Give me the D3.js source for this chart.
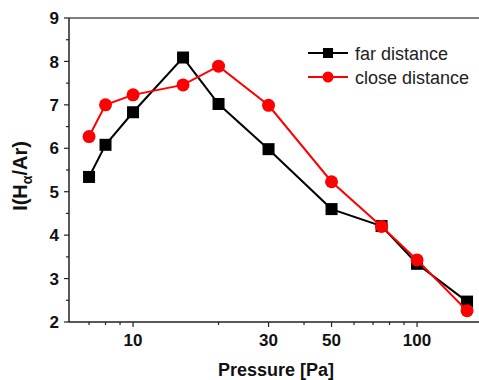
<!doctype html>
<html lang="en">
<head>
<meta charset="utf-8">
<script src="https://d3js.org/d3.v7.min.js"></script>
<style>
  body { margin: 0; background: #fff; }
  text { font-family: "Liberation Sans", Arial, sans-serif; }
</style>
</head>
<body>
<div id="chart"></div>
<script>
// data
var pressure = [7, 8, 10, 15, 20, 30, 50, 75, 100, 150]
var farDist = [5.34, 6.08, 6.83, 8.09, 7.02, 5.98, 4.60, 4.21, 3.34, 2.47]
var closeDist = [6.27, 7.00, 7.23, 7.46, 7.89, 6.99, 5.23, 4.20, 3.43, 2.26]
var xMajor = [10, 30, 50, 100]
var xMinor = [7, 8, 9, 20, 40, 60, 70, 80, 90]
var yMajor = [2, 3, 4, 5, 6, 7, 8, 9]
var yMinor = [2.5, 3.5, 4.5, 5.5, 6.5, 7.5, 8.5]

var width = 479, height = 380
var svg = d3.select("#chart").append("svg")
  .attr("width", width).attr("height", height)

var plotLeft = 69, plotTop = 18, plotBottom = 322
var decade = 284
var x = d3.scaleLog().domain([5.95, 200])
  .range([plotLeft, plotLeft + decade * Math.log10(200 / 5.95)])
var y = d3.scaleLinear().domain([2, 9]).range([plotBottom, plotTop])

// top frame line
svg.append("line")
  .attr("x1", plotLeft).attr("x2", width).attr("y1", plotTop).attr("y2", plotTop)
  .attr("stroke", "#555").attr("stroke-width", 1.5)

// x axis
var xg = svg.append("g").attr("transform", "translate(0," + plotBottom + ")")
xg.append("line").attr("x1", plotLeft).attr("x2", width)
  .attr("stroke", "#222").attr("stroke-width", 1.5)
xg.selectAll(".minor").data(xMinor).enter().append("line")
  .attr("x1", d => x(d)).attr("x2", d => x(d)).attr("y1", 0).attr("y2", 3)
  .attr("stroke", "#222").attr("stroke-width", 1.2)
xg.selectAll(".major").data(xMajor).enter().append("line")
  .attr("x1", d => x(d)).attr("x2", d => x(d)).attr("y1", 0).attr("y2", 5)
  .attr("stroke", "#222").attr("stroke-width", 1.2)
xg.selectAll(".lab").data(xMajor).enter().append("text")
  .attr("x", d => x(d)).attr("y", 24)
  .attr("text-anchor", "middle")
  .attr("font-size", 17).attr("font-weight", "bold").attr("fill", "#111")
  .text(d => d)

// y axis
var yg = svg.append("g").attr("transform", "translate(" + plotLeft + ",0)")
yg.append("line").attr("y1", plotTop).attr("y2", plotBottom)
  .attr("stroke", "#222").attr("stroke-width", 1.5)
yg.selectAll(".minor").data(yMinor).enter().append("line")
  .attr("y1", d => y(d)).attr("y2", d => y(d)).attr("x1", 0).attr("x2", -3)
  .attr("stroke", "#222").attr("stroke-width", 1.2)
yg.selectAll(".major").data(yMajor).enter().append("line")
  .attr("y1", d => y(d)).attr("y2", d => y(d)).attr("x1", 0).attr("x2", -5)
  .attr("stroke", "#222").attr("stroke-width", 1.2)
yg.selectAll(".lab").data(yMajor).enter().append("text")
  .attr("x", -10).attr("y", d => y(d)).attr("dy", "0.36em")
  .attr("text-anchor", "end")
  .attr("font-size", 17).attr("font-weight", "bold").attr("fill", "#111")
  .text(d => d)

// axis titles
svg.append("text")
  .attr("x", 276).attr("y", 376).attr("text-anchor", "middle")
  .attr("font-size", 18).attr("font-weight", "bold").attr("fill", "#111")
  .text("Pressure [Pa]")

var yt = svg.append("text")
  .attr("transform", "translate(27,176) rotate(-90)")
  .attr("text-anchor", "middle")
  .attr("font-size", 20).attr("font-weight", "bold").attr("fill", "#111")
yt.append("tspan").text("I(H")
yt.append("tspan").attr("dy", 5).attr("font-size", 14).text("α")
yt.append("tspan").attr("dy", -5).text("/Ar)")

// series
var line = d3.line().x(d => x(d[0])).y(d => y(d[1]))
var farData = pressure.map((p, i) => [p, farDist[i]])
var closeData = pressure.map((p, i) => [p, closeDist[i]])

svg.append("path").datum(farData).attr("d", line)
  .attr("fill", "none").attr("stroke", "#000").attr("stroke-width", 2)
svg.selectAll(".sq").data(farData).enter().append("rect")
  .attr("x", d => x(d[0]) - 6).attr("y", d => y(d[1]) - 6)
  .attr("width", 12).attr("height", 12).attr("fill", "#000")

svg.append("path").datum(closeData).attr("d", line)
  .attr("fill", "none").attr("stroke", "#f00").attr("stroke-width", 2)
svg.selectAll(".ci").data(closeData).enter().append("circle")
  .attr("cx", d => x(d[0])).attr("cy", d => y(d[1])).attr("r", 6.5)
  .attr("fill", "#f00")

// legend
var leg = svg.append("g")
leg.append("line").attr("x1", 308).attr("x2", 348).attr("y1", 53).attr("y2", 53)
  .attr("stroke", "#000").attr("stroke-width", 2)
leg.append("rect").attr("x", 323).attr("y", 48).attr("width", 10).attr("height", 10).attr("fill", "#000")
leg.append("text").attr("x", 355).attr("y", 60).attr("font-size", 18).attr("fill", "#222")
  .text("far distance")
leg.append("line").attr("x1", 308).attr("x2", 348).attr("y1", 77).attr("y2", 77)
  .attr("stroke", "#f00").attr("stroke-width", 2)
leg.append("circle").attr("cx", 328).attr("cy", 77).attr("r", 5.5).attr("fill", "#f00")
leg.append("text").attr("x", 355).attr("y", 84).attr("font-size", 18).attr("fill", "#222")
  .text("close distance")
</script>
</body>
</html>
